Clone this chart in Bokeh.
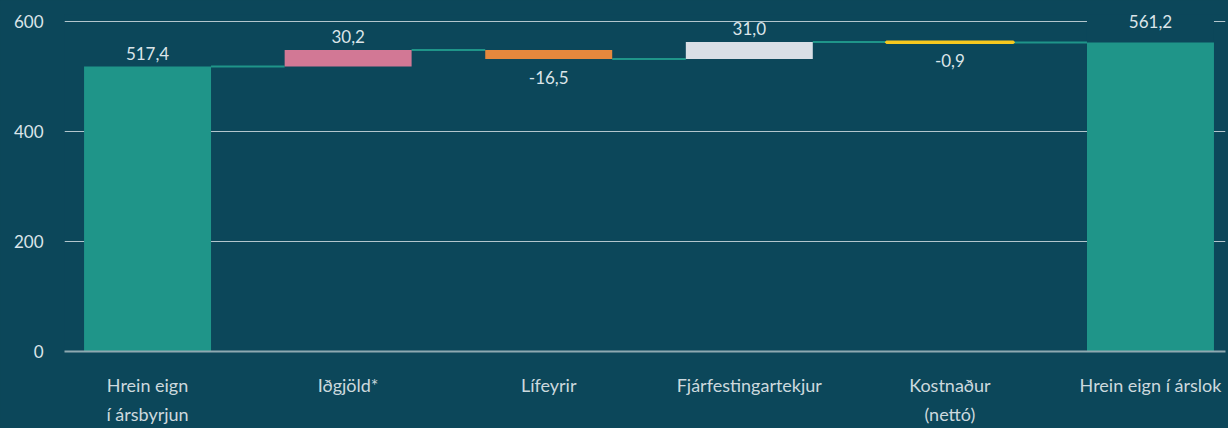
from bokeh.plotting import figure
from bokeh.models import Range1d, FixedTicker, LinearAxis, ColumnDataSource, LabelSet
from bokeh.core.properties import value
from bokeh.embed import file_html
from bokeh.resources import INLINE

# ---- data ----
line1 = ["Hrein eign", "Iðgjöld*", "Lífeyrir", "Fjárfestingartekjur", "Kostnaður", "Hrein eign í árslok"]
line2 = ["í ársbyrjun", "", "", "", "(nettó)", ""]
values = [517.4, 30.2, -16.5, 31.0, -0.9, 561.2]
kinds = ["total", "delta", "delta", "delta", "delta", "total"]
y_ticks = [0, 200, 400, 600]

# ---- style ----
BG = "#0c475a"
TEAL = "#1f9589"
colors = ["#1f9589", "#d27895", "#e5883d", "#d9dfe6", "#f7c81e", "#1f9589"]
FONT = "Lato"
GRID = "#b3c6cd"
TXT = "#dbe5e9"
BAR_W = 0.633

# ---- compute waterfall ----
xs = list(range(len(values)))
bottoms, tops, levels = [], [], []
running = 0.0
for v, k in zip(values, kinds):
    if k == "total":
        b, t = 0.0, v
        running = v
    else:
        b, t = running, running + v
        running += v
    bottoms.append(b)
    tops.append(t)
    levels.append(running)

fmt = lambda v: f"{v:.1f}".replace(".", ",")

p = figure(width=1228, height=428,
           x_range=Range1d(-0.414, 5.374), y_range=Range1d(0, 612),
           output_backend="svg", toolbar_location=None,
           min_border_left=64, min_border_top=14, min_border_bottom=77, min_border_right=3,
           background_fill_color=BG, border_fill_color=BG, outline_line_color=None)
p.styles = {"background-color": BG}

# grid
p.xgrid.visible = False
p.ygrid.ticker = FixedTicker(ticks=y_ticks)
p.ygrid.grid_line_color = GRID
p.ygrid.grid_line_width = 1

# y axis
ya = p.yaxis[0]
ya.ticker = FixedTicker(ticks=y_ticks)
ya.axis_line_color = None
ya.major_tick_line_color = None
ya.minor_tick_line_color = None
ya.major_tick_out = 0
ya.major_tick_in = 0
ya.major_label_standoff = 21
ya.major_label_text_font = FONT
ya.major_label_text_font_size = "17px"
ya.major_label_text_color = TXT

# x axis (first line)
xa = p.xaxis[0]
xa.ticker = FixedTicker(ticks=xs)
xa.major_label_overrides = {i: s for i, s in enumerate(line1)}
xa.axis_line_color = "#8fa9b1"
xa.axis_line_width = 2
xa.major_tick_line_color = None
xa.minor_tick_line_color = None
xa.major_tick_out = 0
xa.major_tick_in = 0
xa.major_label_standoff = 22
xa.major_label_text_font = FONT
xa.major_label_text_font_size = "18px"
xa.major_label_text_color = "#ccd9de"

# second line of category labels
xa2 = LinearAxis(ticker=FixedTicker(ticks=xs),
                 major_label_overrides={i: (s if s else " ") for i, s in enumerate(line2)})
xa2.axis_line_color = None
xa2.major_tick_line_color = None
xa2.minor_tick_line_color = None
xa2.major_tick_out = 0
xa2.major_tick_in = 0
xa2.major_label_standoff = 4
xa2.major_label_text_font = FONT
xa2.major_label_text_font_size = "18px"
xa2.major_label_text_color = "#ccd9de"
p.add_layout(xa2, "below")

# gap in top gridline above the final bar
p.vbar(x=[xs[-1]], width=BAR_W, bottom=[tops[-1]], top=[y_ticks[-1] + 2],
       fill_color=BG, line_color=None)

# connectors
p.segment(x0=[x + BAR_W / 2 for x in xs[:-1]], y0=levels[:-1],
          x1=[x + 1 - BAR_W / 2 for x in xs[:-1]], y1=levels[:-1],
          line_color=TEAL, line_width=2)

# bars
src = ColumnDataSource(dict(x=xs, bottom=bottoms, top=tops, color=colors,
                            lalpha=[0, 0, 0, 0, 1, 0]))
p.vbar(x="x", width=BAR_W, bottom="bottom", top="top", source=src,
       fill_color="color", line_color="color", line_alpha="lalpha", line_width=3)

# value labels
up = [i for i, v in enumerate(values) if v >= 0]
dn = [i for i, v in enumerate(values) if v < 0]
src_up = ColumnDataSource(dict(
    x=[xs[i] for i in up],
    y=[max(bottoms[i], tops[i]) for i in up],
    t=[fmt(values[i]) for i in up],
    off=[14 if i == len(values) - 1 else 7 for i in up]))
src_dn = ColumnDataSource(dict(
    x=[xs[i] for i in dn],
    y=[min(bottoms[i], tops[i]) for i in dn],
    t=[fmt(values[i]) for i in dn]))
p.add_layout(LabelSet(x="x", y="y", text="t", source=src_up, y_offset="off",
                      text_align="center", text_baseline="alphabetic",
                      text_font=value(FONT), text_font_size="17px", text_color=TXT))
p.add_layout(LabelSet(x="x", y="y", text="t", source=src_dn, y_offset=-12,
                      text_align="center", text_baseline="top",
                      text_font=value(FONT), text_font_size="17px", text_color=TXT))

open("out.html", "w").write(file_html(p, INLINE))
